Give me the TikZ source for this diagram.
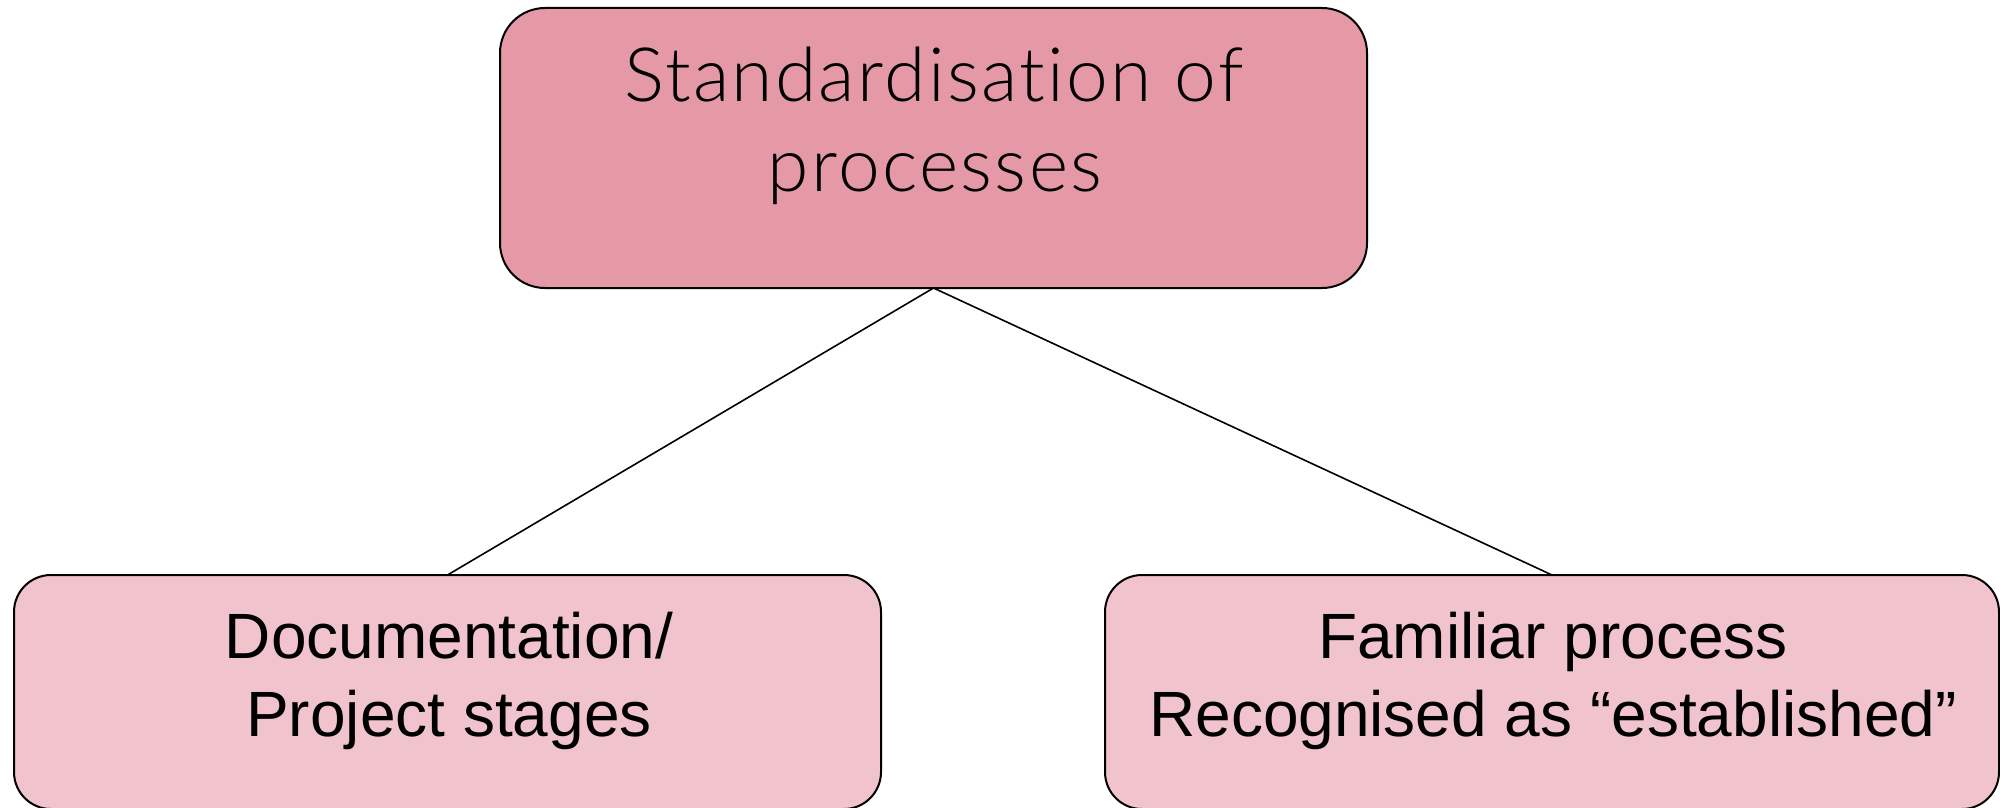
\documentclass[tikz,border=0pt]{standalone}
\usepackage{fontspec}
\setmainfont{Liberation Sans}
\newfontfamily\topfont[Ligatures=NoCommon,LetterSpace=3.1]{Lato Light}
\definecolor{topfill}{RGB}{229,152,166}
\definecolor{subfill}{RGB}{241,196,205}
\begin{document}
\begin{tikzpicture}[x=1pt,y=-1pt,
  boxstyle/.style={draw=black,line width=2pt,rounded corners=#1,inner sep=0pt,outer sep=0pt},
  toptext/.style={anchor=base,inner sep=0pt,font=\topfont\fontsize{75}{89}\selectfont},
  subtext/.style={anchor=base,inner sep=0pt,font=\fontsize{64}{78}\selectfont},
  link/.style={draw=black,line width=1.6pt}]
\useasboundingbox (0,0) rectangle (2000,808);
% boxes
\node[boxstyle=45pt,fill=topfill,minimum width=867pt,minimum height=280pt] (top) at (933.5,148) {};
\node[boxstyle=37pt,fill=subfill,minimum width=867pt,minimum height=234pt] (left) at (447.5,692) {};
\node[boxstyle=37pt,fill=subfill,minimum width=894pt,minimum height=234pt] (right) at (1552,692) {};
% connectors
\draw[link] (top.south) -- (left.north);
\draw[link] (top.south) -- (right.north);
% texts
\node[toptext] (t1) at (934,102) {Standardisation of};
\node[toptext] (t2) at (935,191) {processes};
\node[subtext] (l1) at (449,658) {Documentation/};
\node[subtext] (l2) at (449,736) {Project stages};
\node[subtext] (r1) at (1553,658) {Familiar process};
\node[subtext] (r2) at (1553,736) {Recognised as “established”};
\end{tikzpicture}
\end{document}
